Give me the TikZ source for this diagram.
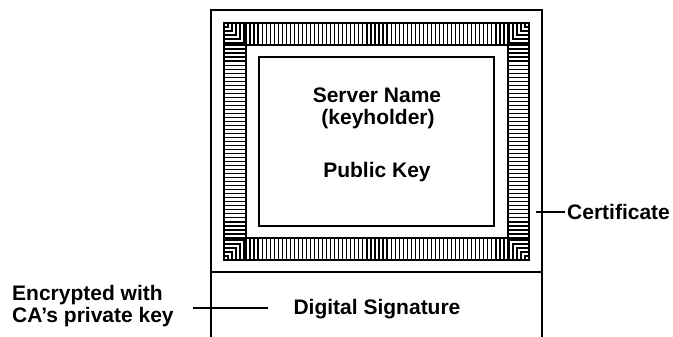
\documentclass[tikz,border=0pt]{standalone}
\usepackage{fontspec}
\setmainfont{Liberation Sans}
\begin{document}
\begin{tikzpicture}[x=1pt,y=-1pt,
  boxline/.style={line width=2pt},
  stripe/.style={line width=1.2pt},
  lbl/.style={font=\fontsize{21}{23}\selectfont\bfseries, inner sep=0pt},
  leader/.style={line width=1.2pt}]
\useasboundingbox (0,0) rectangle (673,337);
% outer certificate box (open at bottom)
\draw[boxline] (211,337) -- (211,10) -- (542,10) -- (542,337);
\draw[boxline] (211,272) -- (542,272);
% hatched frame
\def\fL{224}\def\fR{529}\def\fT{23}\def\fB{260}
\def\gL{246}\def\gR{508}\def\gT{45}\def\gB{238}
% top and bottom bands: vertical stripes (step 262/65)
\foreach \k in {0,...,65}{
  \pgfmathsetmacro\xx{246+\k*4.0308}
  \draw[stripe] (\xx,\fT) -- (\xx,\gT);
  \draw[stripe] (\xx,\gB) -- (\xx,\fB);
}
% left and right bands: horizontal stripes (step 193/48)
\foreach \k in {0,...,48}{
  \pgfmathsetmacro\yy{45+\k*4.0208}
  \draw[stripe] (\fL,\yy) -- (\gL,\yy);
  \draw[stripe] (\gR,\yy) -- (\fR,\yy);
}
% corners: nested L shapes around outer corners
\foreach \dd in {4,8,12,16,20}{
  \draw[stripe] (\fL,\fT+\dd) -- (\fL+\dd,\fT+\dd) -- (\fL+\dd,\fT);
  \draw[stripe] (\fR,\fT+\dd) -- (\fR-\dd,\fT+\dd) -- (\fR-\dd,\fT);
  \draw[stripe] (\fL,\fB-\dd) -- (\fL+\dd,\fB-\dd) -- (\fL+\dd,\fB);
  \draw[stripe] (\fR,\fB-\dd) -- (\fR-\dd,\fB-\dd) -- (\fR-\dd,\fB);
}
\draw[boxline] (\fL,\fT) rectangle (\fR,\fB);
\draw[stripe] (\gL,\gT) rectangle (\gR,\gB);
% inner white box
\draw[boxline] (259,57) rectangle (494,226);
% texts
\node[lbl, anchor=base] (sname) at (377,102.5) {Server Name};
\node[lbl, anchor=base] (kh) at (378,124.5) {(keyholder)};
\node[lbl, anchor=base] (pk) at (377,177) {Public Key};
\node[lbl, anchor=base] (dsig) at (377,314) {Digital Signature};
\node[lbl, anchor=base west] (cert) at (567,219.5) {Certificate};
\node[lbl, anchor=base west] (enc1) at (12,300) {Encrypted with};
\node[lbl, anchor=base west] (enc2) at (12,322) {CA’s private key};
% leaders
\coordinate (certtick) at (536,212);
\coordinate (certend) at (565,212);
\draw[leader] (certtick) -- (certend);
\coordinate (encA) at (193,308);
\coordinate (encB) at (268,308);
\draw[leader] (encA) -- (encB);
\end{tikzpicture}
\end{document}
